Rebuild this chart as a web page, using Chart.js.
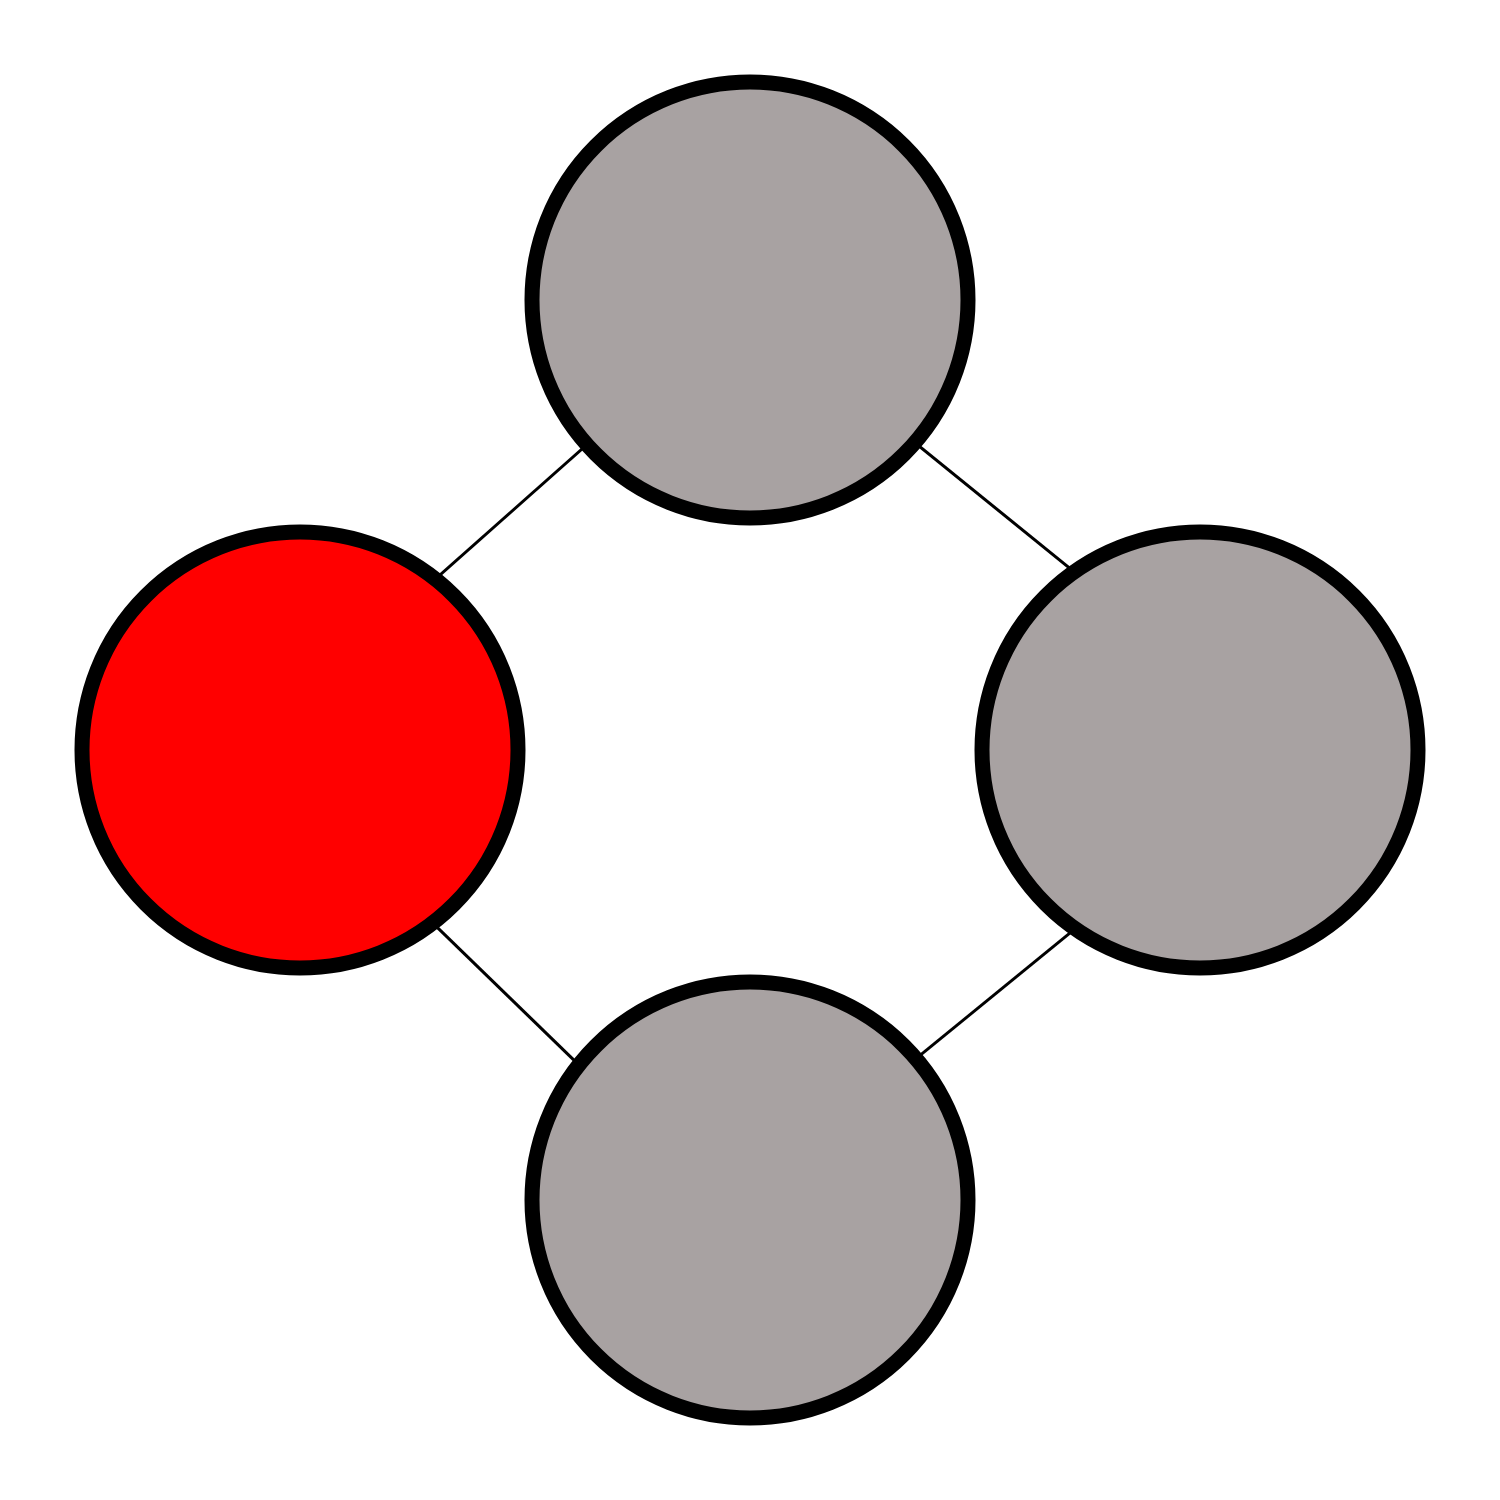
<!DOCTYPE html>
<html>
<head>
<meta charset="utf-8">
<script src="https://cdn.jsdelivr.net/npm/chart.js@4"></script>
<style>
  html, body { margin: 0; padding: 0; background: #ffffff; }
  canvas { display: block; }
</style>
</head>
<body>
<canvas id="graph" width="1500" height="1500"></canvas>
<script>
// node layout (graph coordinates)
const nodeNames = ['A', 'B', 'C', 'D'];
const nodeX = [0, -1, 1, 0];
const nodeY = [1, 0, 0, -1];
const nodeColors = ['#a8a2a2', '#ff0000', '#a8a2a2', '#a8a2a2'];

// edge end points (graph coordinates; they do not sit exactly on the node centres)
const edgeX0 = [0, 0, 1, -1];
const edgeY0 = [1.0, 0.98, -0.171, -0.098];
const edgeX1 = [-1, 1, 0, 0];
const edgeY1 = [0.113, 0.169, -0.987, -1.069];

const ctx = document.getElementById('graph').getContext('2d');

const edgeDatasets = edgeX0.map((x0, i) => ({
    type: 'line',
    data: [{ x: x0, y: edgeY0[i] }, { x: edgeX1[i], y: edgeY1[i] }],
    borderColor: '#000000',
    borderWidth: 3,
    pointRadius: 0,
    fill: false,
    clip: false,
    order: 1
}));

new Chart(ctx, {
    type: 'scatter',
    data: {
        datasets: [{
            label: 'nodes',
            data: nodeNames.map((n, i) => ({ x: nodeX[i], y: nodeY[i] })),
            backgroundColor: nodeColors,
            borderColor: '#000000',
            borderWidth: 15,
            pointRadius: 218,
            pointHoverRadius: 218,
            clip: false,
            order: 0
        }].concat(edgeDatasets)
    },
    options: {
        responsive: false,
        devicePixelRatio: 1,
        animation: false,
        events: [],
        layout: { padding: 0, autoPadding: false },
        plugins: {
            legend: { display: false },
            tooltip: { enabled: false }
        },
        scales: {
            x: { type: 'linear', min: -5 / 3, max: 5 / 3, display: false },
            y: { type: 'linear', min: -5 / 3, max: 5 / 3, display: false }
        }
    }
});
</script>
</body>
</html>
